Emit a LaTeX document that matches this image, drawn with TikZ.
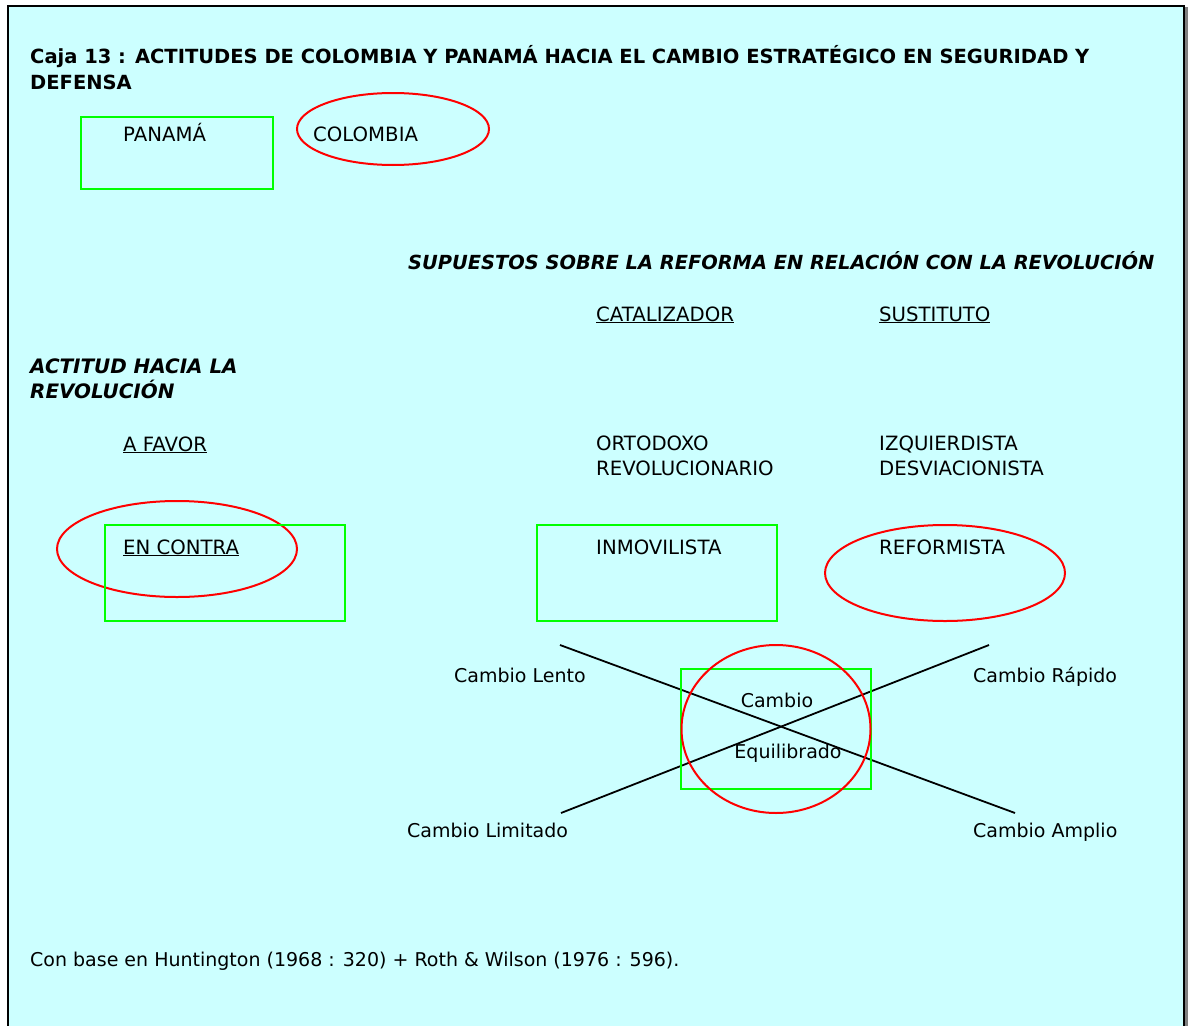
\documentclass[tikz,border=0pt]{standalone}
\usepackage{fontspec}
\setmainfont{DejaVu Sans}
\usetikzlibrary{shapes.geometric}
\definecolor{cajabg}{HTML}{CCFFFF}
\definecolor{boxgreen}{HTML}{00FF00}
\definecolor{ovalred}{HTML}{FF0000}

\begin{document}
\begin{tikzpicture}[x=1pt,y=-1pt,
  lbl/.style={anchor=base west,inner sep=0pt,align=left,font=\fontsize{19}{25}\selectfont},
  capslbl/.style={lbl,font=\fontsize{19.7}{25}\selectfont},
  heading/.style={lbl,font=\fontsize{19.4}{25}\selectfont\bfseries\itshape},
  greenbox/.style={draw=boxgreen,line width=2.4pt,rectangle,inner sep=0pt},
  redoval/.style={draw=ovalred,line width=2pt,ellipse,inner sep=0pt}]
\useasboundingbox (0,0) rectangle (1188,1025);
% frame of the box
\fill[cajabg] (8,6) rectangle (1184,1030);
\fill[gray] (1185,7) rectangle (1188,1030);
\draw[line width=2pt] (8,1030) -- (8,6) -- (1184,6) -- (1184,1030);
% title (base = last line)
\node[lbl,font=\fontsize{19.5}{26}\selectfont\bfseries] (title) at (30,89)
  {Caja 13 : ACTITUDES DE COLOMBIA Y PANAMÁ HACIA EL CAMBIO ESTRATÉGICO EN SEGURIDAD Y\\DEFENSA};
% legend
\node[greenbox,minimum width=192pt,minimum height=72pt] (panamabox) at (177,153) {};
\node[redoval,minimum width=192pt,minimum height=72pt] (colombiaoval) at (393,129) {};
\node[capslbl] (panama) at (123,141) {PANAMÁ};
\node[capslbl] (colombia) at (313,141) {COLOMBIA};
% column and row headings
\node[heading] (supuestos) at (408,269) {SUPUESTOS SOBRE LA REFORMA EN RELACIÓN CON LA REVOLUCIÓN};
\node[capslbl] (catalizador) at (596,321) {\underline{CATALIZADOR}};
\node[capslbl] (sustituto) at (879,321) {\underline{SUSTITUTO}};
\node[heading,font=\fontsize{19.9}{25}\selectfont\bfseries\itshape] (actitud) at (30,398) {ACTITUD HACIA LA\\REVOLUCIÓN};
\node[capslbl] (afavor) at (123,451) {\underline{A FAVOR}};
\node[capslbl] (ortodoxo) at (596,475) {ORTODOXO\\REVOLUCIONARIO};
\node[capslbl] (izquierdista) at (879,475) {IZQUIERDISTA\\DESVIACIONISTA};
% en contra row
\node[redoval,minimum width=240pt,minimum height=96pt] (contraoval) at (177,549) {};
\node[greenbox,minimum width=240pt,minimum height=96pt] (contrabox) at (225,573) {};
\node[capslbl] (encontra) at (123,554) {\underline{EN CONTRA}};
\node[greenbox,minimum width=240pt,minimum height=96pt] (inmovilbox) at (657,573) {};
\node[capslbl] (inmovilista) at (596,554) {INMOVILISTA};
\node[redoval,minimum width=240pt,minimum height=96pt] (reformoval) at (945,573) {};
\node[capslbl] (reformista) at (879,554) {REFORMISTA};
% the cross of change
\coordinate (lento) at (560,645);
\coordinate (amplio) at (1015,813);
\coordinate (limitado) at (561,813);
\coordinate (rapido) at (989,645);
\draw[line width=1.8pt] (lento) -- (amplio);
\draw[line width=1.8pt] (limitado) -- (rapido);
\node[greenbox,minimum width=190pt,minimum height=120pt] (equilbox) at (776,729) {};
\node[redoval,minimum width=189pt,minimum height=168pt] (equiloval) at (776,729) {};
\node[lbl,anchor=base] (cambio) at (777,707) {Cambio};
\node[lbl,anchor=base] (equilibrado) at (788,758) {Equilibrado};
\node[lbl] (cambiolento) at (454,682) {Cambio Lento};
\node[lbl] (cambiorapido) at (973,682) {Cambio Rápido};
\node[lbl] (cambiolimitado) at (407,837) {Cambio Limitado};
\node[lbl] (cambioamplio) at (973,837) {Cambio Amplio};
% source
\node[lbl] (fuente) at (30,966) {Con base en Huntington (1968 : 320) + Roth \& Wilson (1976 : 596).};
\end{tikzpicture}
\end{document}
